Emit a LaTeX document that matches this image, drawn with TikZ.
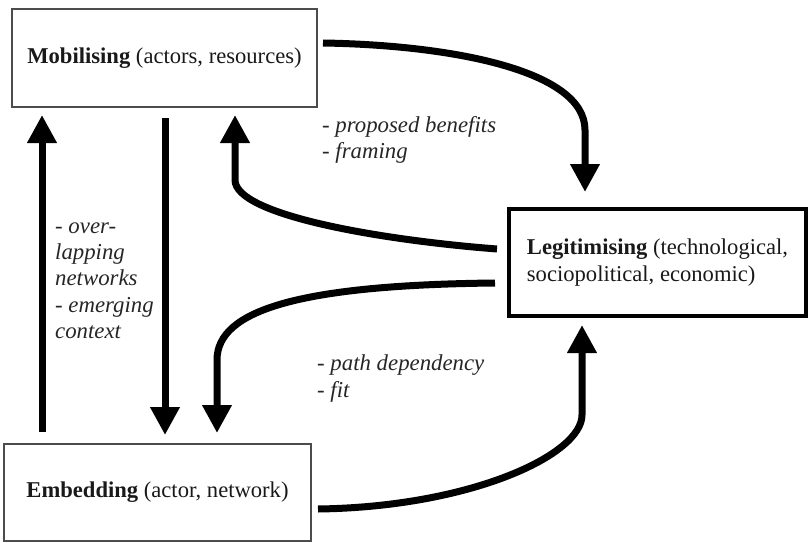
\documentclass[tikz,border=0pt]{standalone}
\usepackage{fontspec}
\setmainfont{Liberation Serif}[ItalicFont={Liberation Serif Italic},BoldFont={Liberation Serif Bold}]
\usetikzlibrary{arrows.meta,calc}
\begin{document}
\begin{tikzpicture}[x=1pt,y=-1pt,
  box/.style={draw=black!70, line width=1.2pt, inner sep=0pt, outer sep=0pt,
    font=\fontsize{22.6}{26.8}\selectfont, text=black!90},
  arr/.style={line width=7pt, -{Triangle[length=28pt,width=28pt]}},
  lab/.style={font=\fontsize{22.8}{26.3}\selectfont\itshape, align=left, anchor=west,
    inner sep=0pt, text=black!85}]
\useasboundingbox (0,0) rectangle (809,543);
\node[box, minimum width=305pt, minimum height=98pt] (mob) at (164.5,58)
  {\textbf{Mobilising} (actors, resources)};
\node[box, line width=4pt, draw=black, minimum width=297pt, minimum height=107pt, align=left]
  (leg) at (657.5,262.5) {\textbf{Legitimising} (technological,\\ sociopolitical, economic)};
\node[box, minimum width=307pt, minimum height=97pt] (emb) at (157.5,492.5)
  {\textbf{Embedding} (actor, network)};
% Mobilising -> Legitimising
\draw[arr] ($(mob.east)+(6,-15)$) .. controls ($(mob.east)+(133,-13)$) and ($(leg.north west)+(76,-139)$)
  .. ($(leg.north west)+(76,-79)$) -- ($(leg.north west)+(76,-17)$);
% Legitimising -> Mobilising
\draw[arr] ($(leg.west)+(-12,-13.5)$) .. controls ($(leg.west)+(-129,-22.5)$) and ($(mob.south west)+(223,108)$)
  .. ($(mob.south west)+(223,73)$) -- ($(mob.south west)+(223,8)$);
% Legitimising -> Embedding
\draw[arr] ($(leg.west)+(-14,20.5)$) .. controls ($(leg.west)+(-209,22.5)$) and ($(emb.north west)+(213,-134)$)
  .. ($(emb.north west)+(213,-84)$) -- ($(emb.north west)+(213,-11)$);
% Embedding -> Legitimising
\draw[arr] ($(emb.east)+(7,16.5)$) .. controls ($(emb.east)+(159,14.5)$) and ($(leg.south west)+(73,139)$)
  .. ($(leg.south west)+(73,99)$) -- ($(leg.south west)+(73,9)$);
% Embedding -> Mobilising
\draw[arr] ($(emb.north west)+(38,-12)$) -- ($(mob.south west)+(30,8)$);
% Mobilising -> Embedding
\draw[arr] ($(mob.south west)+(153,11)$) -- ($(emb.north west)+(161,-9)$);
% labels
\node[lab] (l1) at (322,140) {- proposed benefits\\- framing};
\node[lab] (l2) at (317,378.5) {- path dependency\\- fit};
\node[lab] (l3) at (55,280.5) {- over-\\lapping\\networks\\- emerging\\context};
\end{tikzpicture}
\end{document}
